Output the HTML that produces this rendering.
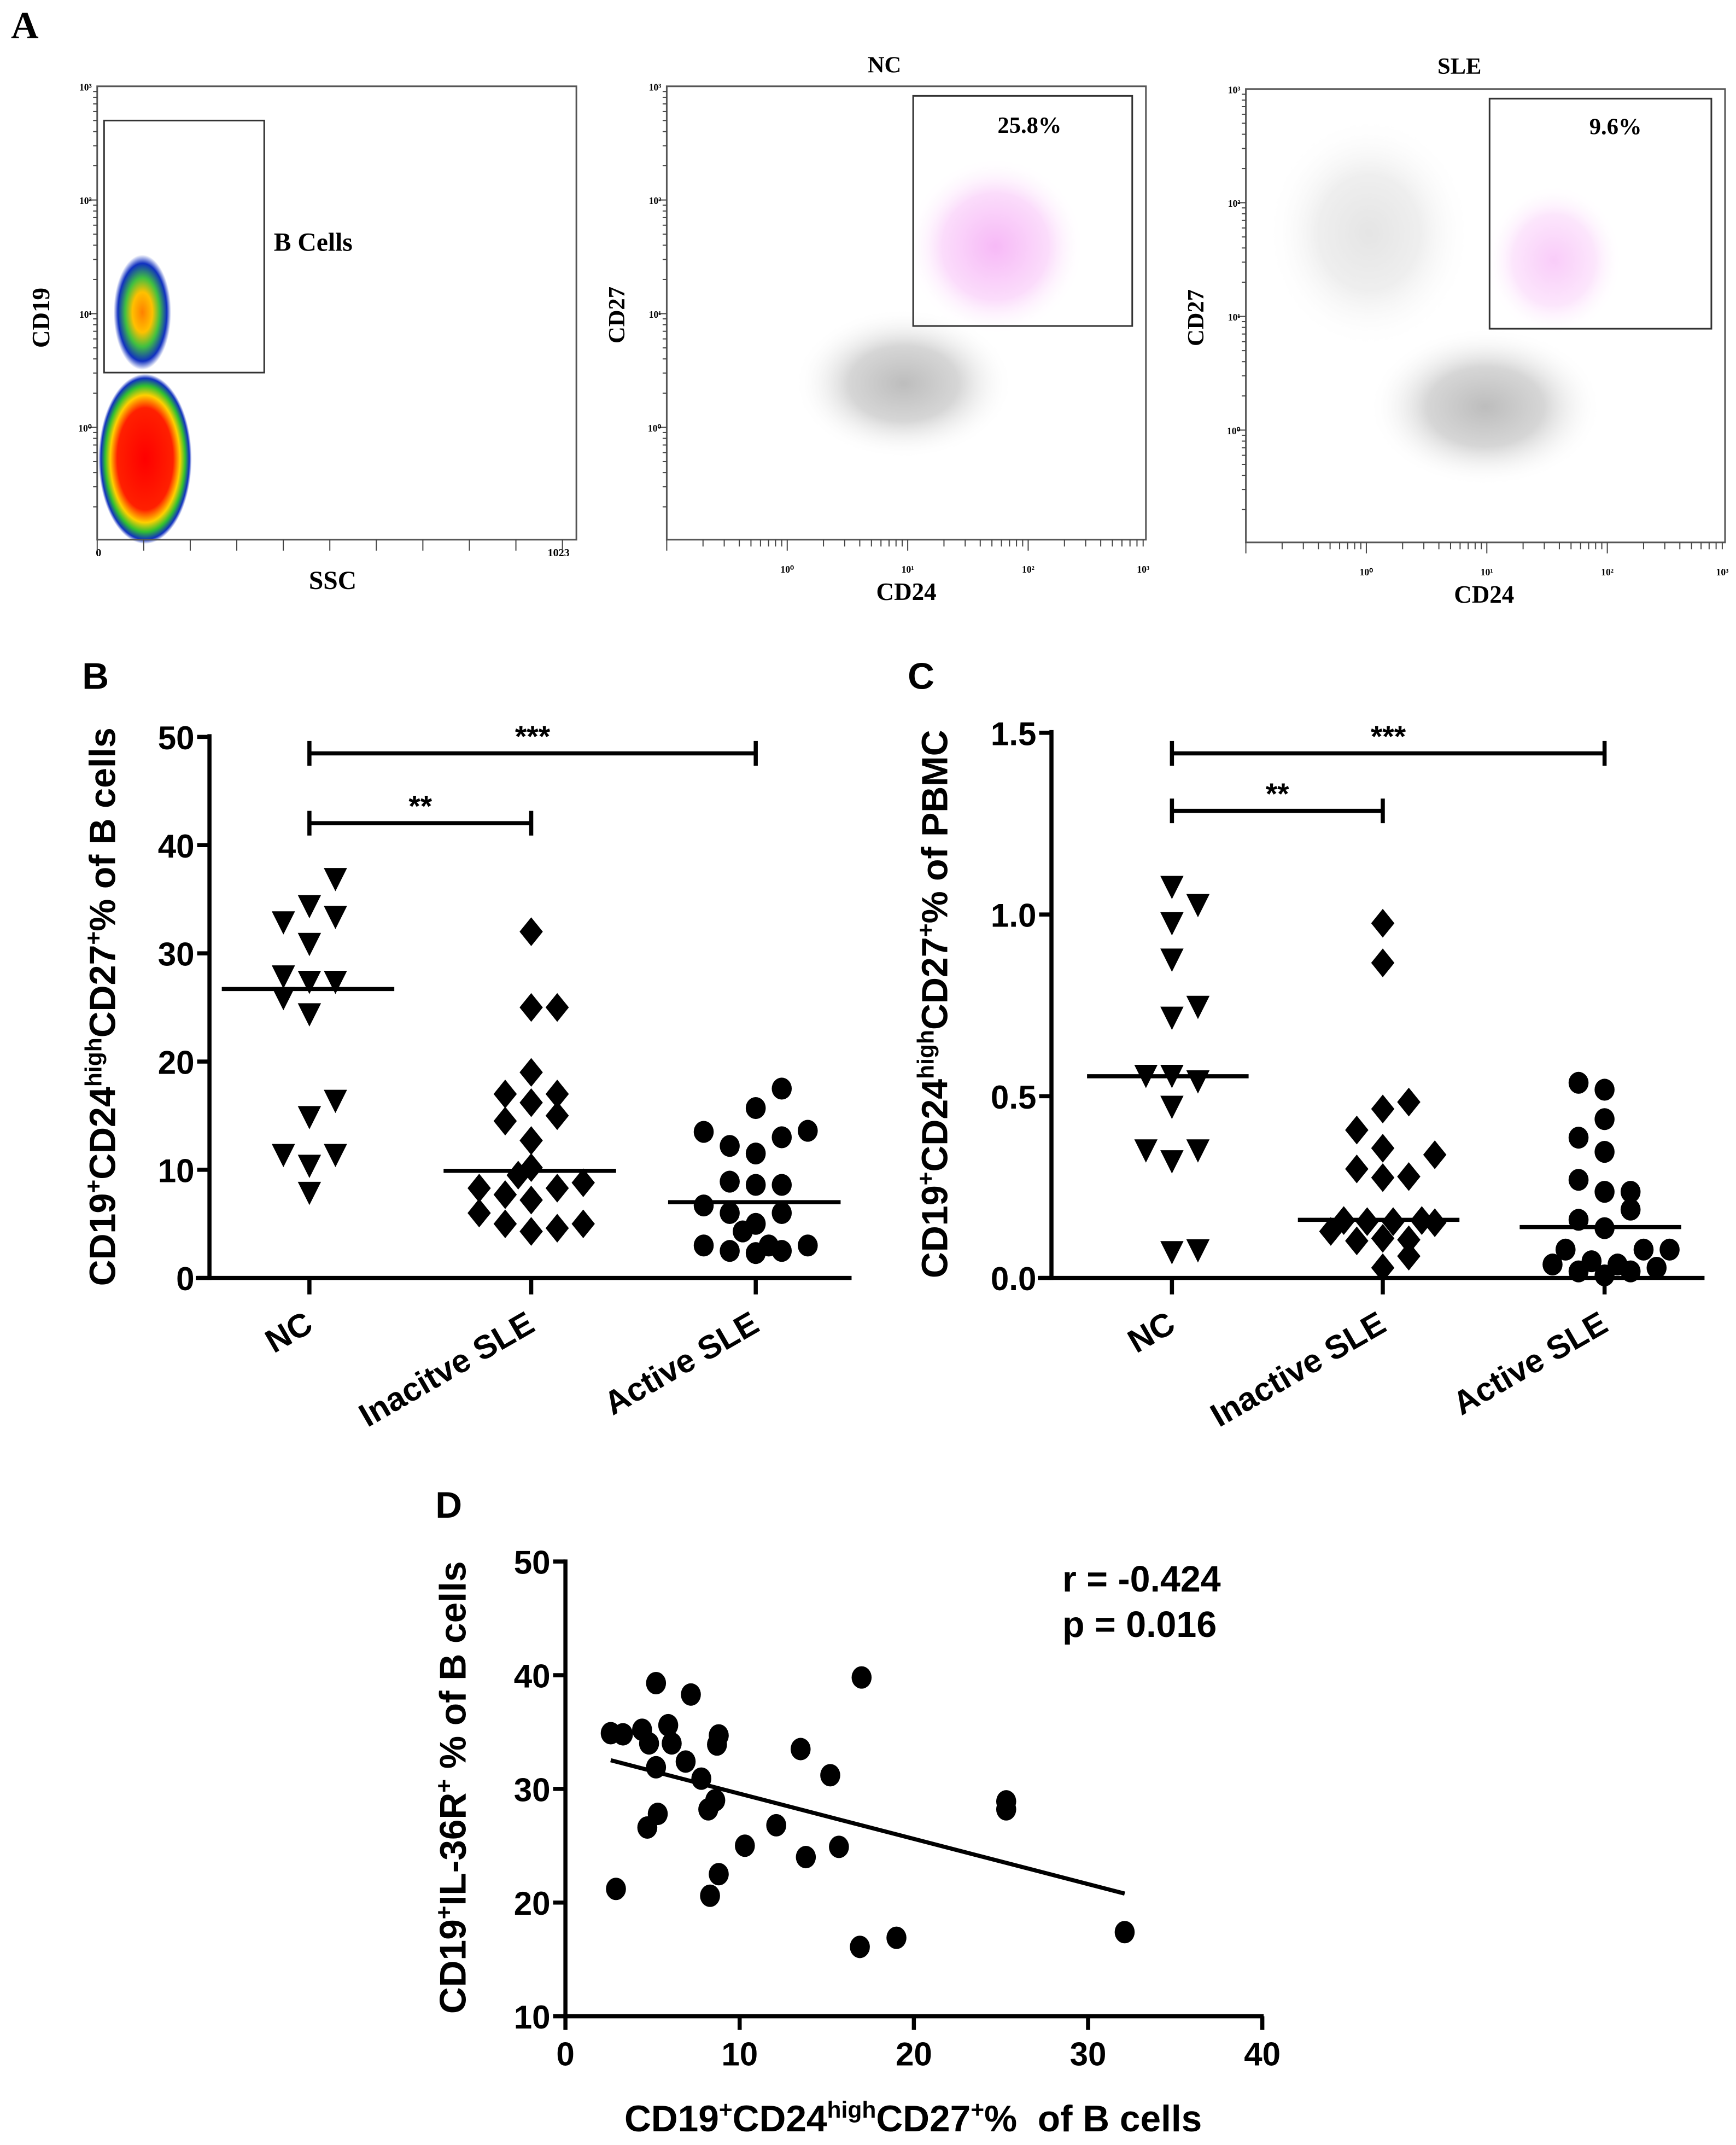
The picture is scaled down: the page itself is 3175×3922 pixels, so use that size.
<!DOCTYPE html>
<html><head><meta charset="utf-8"><style>
html,body{margin:0;padding:0;background:#fff}
svg{display:block}
text{font-family:"Liberation Sans",Arial,sans-serif;font-weight:bold;fill:#000}
.serif{font-family:"Liberation Serif","Times New Roman",serif}
</style></head><body>
<svg id="fig" xmlns="http://www.w3.org/2000/svg" width="3175" height="3922" viewBox="0 0 1268 1566" preserveAspectRatio="none">
<defs>
<radialGradient id="heat" cx="50%" cy="50%" r="50%">
<stop offset="0" stop-color="#ff0000"/><stop offset="0.6" stop-color="#ff2000"/><stop offset="0.75" stop-color="#ffd000"/><stop offset="0.86" stop-color="#30c030"/><stop offset="0.95" stop-color="#1030c0"/><stop offset="1" stop-color="#1030c0" stop-opacity="0"/></radialGradient>
<radialGradient id="heat2" cx="50%" cy="50%" r="50%">
<stop offset="0" stop-color="#ff8000"/><stop offset="0.35" stop-color="#ffc000"/><stop offset="0.6" stop-color="#40c040"/><stop offset="0.85" stop-color="#1030c0"/><stop offset="1" stop-color="#1030c0" stop-opacity="0"/></radialGradient>
<radialGradient id="gray" cx="50%" cy="50%" r="50%">
<stop offset="0" stop-color="#bdbdbd"/><stop offset="0.5" stop-color="#d6d6d6"/><stop offset="1" stop-color="#fff" stop-opacity="0"/></radialGradient>
<radialGradient id="pink" cx="50%" cy="50%" r="50%">
<stop offset="0" stop-color="#f080f0"/><stop offset="0.6" stop-color="#f8c0f8"/><stop offset="1" stop-color="#fff" stop-opacity="0"/></radialGradient>
</defs>

<text class="serif" x="8" y="28" font-size="28">A</text>

<g>
<ellipse cx="106" cy="335" rx="34" ry="62" fill="url(#heat)"/>
<ellipse cx="104" cy="228" rx="21" ry="42" fill="url(#heat2)"/>
<rect x="71" y="63" width="350" height="331" fill="none" stroke="#555" stroke-width="1.2"/>
<rect x="76" y="88" width="117" height="184" fill="none" stroke="#333" stroke-width="1.2"/>
<text class="serif" x="200" y="183" font-size="19">B Cells</text>
<text class="serif" x="0" y="0" font-size="18" transform="translate(36,232) rotate(-90)" text-anchor="middle">CD19</text>
<text class="serif" x="243" y="430" font-size="19" text-anchor="middle">SSC</text>
<text class="serif" x="72" y="406" font-size="8" text-anchor="middle">0</text>
<text class="serif" x="408" y="406" font-size="8" text-anchor="middle">1023</text>
</g>

<g>
<ellipse cx="660" cy="280" rx="80" ry="55" fill="url(#gray)"/>
<ellipse cx="727" cy="180" rx="65" ry="65" fill="url(#pink)" opacity="0.55"/>
<rect x="487" y="63" width="350" height="331" fill="none" stroke="#555" stroke-width="1.2"/>
<rect x="667" y="70" width="160" height="168" fill="none" stroke="#333" stroke-width="1.2"/>
<text class="serif" x="752" y="97" font-size="17" text-anchor="middle">25.8%</text>
<text class="serif" x="646" y="53" font-size="17" text-anchor="middle">NC</text>
<text class="serif" x="0" y="0" font-size="17" transform="translate(456,230) rotate(-90)" text-anchor="middle">CD27</text>
<text class="serif" x="662" y="438" font-size="18" text-anchor="middle">CD24</text>
</g>

<g>
<ellipse cx="1085" cy="297" rx="85" ry="58" fill="url(#gray)"/>
<ellipse cx="1000" cy="170" rx="75" ry="85" fill="url(#gray)" opacity="0.4"/>
<ellipse cx="1135" cy="190" rx="50" ry="55" fill="url(#pink)" opacity="0.4"/>
<rect x="910" y="65" width="350" height="331" fill="none" stroke="#555" stroke-width="1.2"/>
<rect x="1088" y="72" width="162" height="168" fill="none" stroke="#333" stroke-width="1.2"/>
<text class="serif" x="1180" y="98" font-size="17" text-anchor="middle">9.6%</text>
<text class="serif" x="1066" y="54" font-size="17" text-anchor="middle">SLE</text>
<text class="serif" x="0" y="0" font-size="17" transform="translate(879,232) rotate(-90)" text-anchor="middle">CD27</text>
<text class="serif" x="1084" y="440" font-size="18" text-anchor="middle">CD24</text>
</g>
<g id="flowticks"></g>

<text x="60" y="503" font-size="27">B</text>
<g id="panelB"></g>
<text x="663" y="503" font-size="27">C</text>
<g id="panelC"></g>
<text x="318" y="1108" font-size="27">D</text>
<g id="panelD"></g>
</svg>
<script>
// ---------- Panel B data ----------
const bCategories = ["NC", "Inacitve SLE", "Active SLE"];
const bTicks = [0, 10, 20, 30, 40, 50];
const bNC = [37,34.5,33,33.5,31,28,27.5,27.5,26,24.5,16.5,15,11.5,10.5,11.5,8];
const bNCJit = [1,0,-1,1,0,-1,0,1,-1,0,1,0,-1,0,1,0];
const bInactive = [32,25,25,19,17,16.2,17,15,14.5,12.7,10.2,9.5,8.3,7.7,8.3,8.8,7.2,6,5,4.3,4.6,5];
const bInactiveJit = [0,0,1,0,-1,0,1,1,-1,0,0,-0.5,-2,-1,1,2,0,-2,-1,0,1,2];
const bActive = [17.5,15.7,13.5,12.2,11.5,13,13.6,8.9,8.6,8.6,6.7,6,5,4.3,6,3,2.5,2.3,3,2.5,3];
const bActiveJit = [1,0,-2,-1,0,1,2,-1,0,1,-2,-1,0,-0.5,1,-2,-1,0,0.5,1,2];
const bMedians = [26.7, 9.9, 7.0];
// ---------- Panel C data ----------
const cCategories = ["NC", "Inactive SLE", "Active SLE"];
const cTicks = [0.0, 0.5, 1.0, 1.5];
const cNC = [1.08,1.03,0.98,0.88,0.75,0.72,0.56,0.56,0.545,0.475,0.355,0.355,0.325,0.075,0.08];
const cNCJit = [0,1,0,0,1,0,-1,0,1,0,-1,1,0,0,1];
const cInactive = [0.976,0.867,0.484,0.465,0.407,0.357,0.339,0.3,0.276,0.279,0.158,0.155,0.155,0.158,0.152,0.128,0.102,0.109,0.105,0.06,0.028];
const cInactiveJit = [0,0,1,0,-1,0,2,-1,0,1,-1.5,-0.6,0.4,1.5,2,-2,-1,0,1,1,0];
const cActive = [0.537,0.518,0.437,0.386,0.347,0.27,0.237,0.237,0.188,0.16,0.137,0.078,0.078,0.078,0.037,0.046,0.037,0.028,0.018,0.007,0.018];
const cActiveJit = [-1,0,0,-1,0,-1,0,1,1,-1,0,-1.5,1.5,2.5,-2,-0.5,0.5,2,-1,0,1];
const cMedians = [0.555, 0.16, 0.14];
// ---------- Panel D data ----------
const dX = [2.6,3.3,4.4,4.8,5.2,5.9,6.1,5.2,6.9,7.2,7.8,8.8,8.7,8.6,8.2,5.3,4.7,2.9,8.8,8.3,10.3,12.1,13.8,13.5,15.2,15.7,17.0,16.9,19.0,25.3,25.3,32.1];
const dY = [34.9,34.8,35.2,34.0,39.3,35.6,34.0,31.9,32.4,38.3,30.9,34.7,33.9,29.0,28.2,27.8,26.6,21.2,22.5,20.6,25.0,26.8,24.0,33.5,31.2,24.9,39.8,16.1,16.9,28.9,28.2,17.4];
const dXTicks = [0, 10, 20, 30, 40];
const dYTicks = [10, 20, 30, 40, 50];

const NS = "http://www.w3.org/2000/svg";
function mk(parent, tag, attrs, txt) {
  const e = document.createElementNS(NS, tag);
  for (const k in attrs) e.setAttribute(k, attrs[k]);
  if (txt !== undefined) e.textContent = txt;
  parent.appendChild(e);
  return e;
}

(function(){
  const g = document.getElementById('flowticks');
  const plots = [{x0:71,y0:63,w:350,h:331,logX:false},{x0:487,y0:63,w:350,h:331,logX:true},{x0:910,y0:65,w:350,h:331,logX:true}];
  const sup = ['⁰','¹','²','³'];
  plots.forEach(p=>{
    const dec = 83;
    const yOf = v => p.y0 + (3 - v)*dec; // v in decades
    for (let d=-1; d<3; d++) {
      for (let m=1; m<10; m++) {
        const y = yOf(d + Math.log10(m));
        if (y > p.y0+p.h) continue;
        const len = m===1 ? 6 : 3;
        const t = mk(g,'line',{x1:p.x0-len,x2:p.x0,y1:y,y2:y,stroke:'#444','stroke-width':0.8});
        
        
      }
    }
    for (let i=0;i<4;i++){
      const t = mk(g,'text',{x:p.x0-4,y:yOf(i)+3,'font-size':7,'text-anchor':'end','class':'serif'},'10'+sup[i]);
      
      
    }
    if (p.logX) {
      const xd = 88;
      const x0 = p.x0 + p.w - 4*xd + 2;
      for (let d=-1; d<4; d++) for (let m=1; m<10; m++) {
        const x = x0 + (d + Math.log10(m))*xd;
        if (x < p.x0 || x > p.x0+p.w) continue;
        const len = m===1 ? 8 : 5;
        const t = mk(g,'line',{x1:x,x2:x,y1:p.y0+p.h,y2:p.y0+p.h+len,stroke:'#444','stroke-width':0.8});
        
        
      }
      for (let i=1;i<=4;i++){
        const t = mk(g,'text',{x:x0+i*xd-(i===4?4:0),y:p.y0+p.h+24,'font-size':7,'text-anchor':'middle','class':'serif'},'10'+sup[i-1]);
        
        
      }
    } else {
      for (let i=0;i<=10;i++){
        const x = p.x0 + i*p.w/10.3;
        const t = mk(g,'line',{x1:x,x2:x,y1:p.y0+p.h,y2:p.y0+p.h+8,stroke:'#444','stroke-width':0.8});
        
        
      }
    }
  });
})();

function marker(g, shape, x, y) {
  let e;
  if (shape === 'tri') e = mk(g,'polygon',{points:`${x-8.5},${y-7} ${x+8.5},${y-7} ${x},${y+10}`,fill:'#000'});
  else if (shape === 'dia') e = mk(g,'polygon',{points:`${x},${y-10.5} ${x+8.5},${y} ${x},${y+10.5} ${x-8.5},${y}`,fill:'#000'});
  else e = mk(g,'ellipse',{cx:x,cy:y,rx:7.3,ry:8,fill:'#000'});
  return e;
}

function dotPlot(cfg) {
  const g = document.getElementById(cfg.id);
  const ys = v => cfg.y0 - (v - cfg.vmin)/(cfg.vmax - cfg.vmin)*(cfg.y0 - cfg.y1);
  let e = mk(g,'line',{x1:cfg.ax,x2:cfg.ax,y1:cfg.y1-2,y2:cfg.y0+1.5,stroke:'#000','stroke-width':3});
   
  e = mk(g,'line',{x1:cfg.ax-10,x2:cfg.xEnd,y1:cfg.y0,y2:cfg.y0,stroke:'#000','stroke-width':3});
   
  cfg.ticks.forEach(t=>{
    const y = ys(t);
    let l = mk(g,'line',{x1:cfg.ax-9,x2:cfg.ax,y1:y,y2:y,stroke:'#000','stroke-width':3});
     
    let tx = mk(g,'text',{x:cfg.ax-11,y:y+9,'font-size':24,'text-anchor':'end'}, cfg.fmt(t));
     
  });
  cfg.cats.forEach((c,i)=>{
    const x = cfg.cx[i];
    let l = mk(g,'line',{x1:x,x2:x,y1:cfg.y0,y2:cfg.y0+12,stroke:'#000','stroke-width':3});
     
    let tx = mk(g,'text',{x:0,y:0,'font-size':24,'text-anchor':'end',transform:`translate(${x+4},${cfg.y0+38}) rotate(-30)`}, c);
     
  });
  cfg.series.forEach((s,i)=>{
    s.vals.forEach((v,j)=>{
      const m = marker(g, s.shape, cfg.cx[i] + s.jit[j]*19, ys(v));
      
      
    });
    const my = ys(cfg.medians[i]);
    const ml = mk(g,'line',{x1:cfg.cx[i]-cfg.mw[0],x2:cfg.cx[i]+cfg.mw[1],y1:my,y2:my,stroke:'#000','stroke-width':3});
    
    
  });
  cfg.brackets.forEach(b=>{
    const xa = cfg.cx[b.a], xb = cfg.cx[b.b];
    const bg = mk(g,'g',{});
    
    
    mk(bg,'line',{x1:xa,x2:xb,y1:b.y,y2:b.y,stroke:'#000','stroke-width':3});
    mk(bg,'line',{x1:xa,x2:xa,y1:b.y-9,y2:b.y+9,stroke:'#000','stroke-width':3});
    mk(bg,'line',{x1:xb,x2:xb,y1:b.y-9,y2:b.y+9,stroke:'#000','stroke-width':3});
    const st = mk(g,'text',{x:(xa+xb)/2,y:b.y-5,'font-size':22,'text-anchor':'middle'}, b.label);
    
    
  });
  const tt = mk(g,'text',{x:0,y:0,'font-size':26.5,'text-anchor':'middle',transform:`translate(${cfg.titleX},${cfg.titleY}) rotate(-90)`});
  
  
  tt.innerHTML = 'CD19<tspan font-size="17" dy="-10">+</tspan><tspan dy="10">CD24</tspan><tspan font-size="17" dy="-10">high</tspan><tspan dy="10">CD27</tspan><tspan font-size="17" dy="-10">+</tspan><tspan dy="10">% of ' + cfg.titleEnd + '</tspan>';
}

dotPlot({id:'panelB', ax:153, xEnd:622, y0:933, y1:538, vmin:0, vmax:50, ticks:bTicks, fmt:t=>String(t),
  cats:bCategories, cx:[226,388,552], mw:[64,62],
  series:[{name:'nc',shape:'tri',vals:bNC,jit:bNCJit},{name:'inactive-sle',shape:'dia',vals:bInactive,jit:bInactiveJit},{name:'active-sle',shape:'cir',vals:bActive,jit:bActiveJit}],
  medians:bMedians,
  brackets:[{a:0,b:2,y:550,label:'***'},{a:0,b:1,y:601,label:'**'}],
  titleX:84, titleY:735, titleEnd:'B cells'});

dotPlot({id:'panelC', ax:768, xEnd:1245, y0:933, y1:535, vmin:0, vmax:1.5, ticks:cTicks, fmt:t=>t.toFixed(1),
  cats:cCategories, cx:[856,1010,1172], mw:[62,56],
  series:[{name:'nc',shape:'tri',vals:cNC,jit:cNCJit},{name:'inactive-sle',shape:'dia',vals:cInactive,jit:cInactiveJit},{name:'active-sle',shape:'cir',vals:cActive,jit:cActiveJit}],
  medians:cMedians,
  brackets:[{a:0,b:2,y:550,label:'***'},{a:0,b:1,y:592,label:'**'}],
  titleX:692, titleY:733, titleEnd:'PBMC'});

(function(){
  const g = document.getElementById('panelD');
  const X0=413, X1=922, Y0=1472, Y1=1140;
  const xs = v => X0 + v/40*(X1-X0);
  const ys = v => Y0 - (v-10)/40*(Y0-Y1);
  let e = mk(g,'line',{x1:X0,x2:X0,y1:Y1-1.5,y2:Y0+1.5,stroke:'#000','stroke-width':3});
   
  e = mk(g,'line',{x1:X0-1.5,x2:X1+1,y1:Y0,y2:Y0,stroke:'#000','stroke-width':3});
   
  dYTicks.forEach(t=>{
    const y = ys(t);
    let l = mk(g,'line',{x1:X0-9,x2:X0,y1:y,y2:y,stroke:'#000','stroke-width':3});
     
    let tx = mk(g,'text',{x:X0-11,y:y+9,'font-size':24,'text-anchor':'end'},String(t));
     
  });
  dXTicks.forEach(t=>{
    const x = xs(t);
    let l = mk(g,'line',{x1:x,x2:x,y1:Y0,y2:Y0+10,stroke:'#000','stroke-width':3});
     
    let tx = mk(g,'text',{x:x,y:Y0+36,'font-size':24,'text-anchor':'middle'},String(t));
     
  });
  dX.forEach((v,i)=>{
    const c = mk(g,'ellipse',{cx:xs(v),cy:ys(dY[i]),rx:7.3,ry:8.2,fill:'#000'});
    
    
  });
  const n=dX.length; let sx=0,sy=0,sxx=0,sxy=0;
  for(let i=0;i<n;i++){sx+=dX[i];sy+=dY[i];sxx+=dX[i]*dX[i];sxy+=dX[i]*dY[i];}
  const slope=(n*sxy-sx*sy)/(n*sxx-sx*sx), icpt=(sy-slope*sx)/n;
  const xmin=Math.min(...dX), xmax=Math.max(...dX);
  const rl = mk(g,'line',{x1:xs(xmin),y1:ys(icpt+slope*xmin),x2:xs(xmax),y2:ys(icpt+slope*xmax),stroke:'#000','stroke-width':3});
  
  
  let t = mk(g,'text',{x:776,y:1162,'font-size':26.5},'r = -0.424');
   
  t = mk(g,'text',{x:776,y:1195,'font-size':26.5},'p = 0.016');
   
  const yt = mk(g,'text',{x:0,y:0,'font-size':27,'text-anchor':'middle',transform:'translate(340,1305) rotate(-90)'});
  
  
  yt.innerHTML='CD19<tspan font-size="17" dy="-10">+</tspan><tspan dy="10">IL-36R</tspan><tspan font-size="17" dy="-10">+</tspan><tspan dy="10">\u00a0% of B cells</tspan>';
  const xt = mk(g,'text',{x:667,y:1556,'font-size':27,'text-anchor':'middle'});
  
  
  xt.innerHTML='CD19<tspan font-size="17" dy="-10">+</tspan><tspan dy="10">CD24</tspan><tspan font-size="17" dy="-10">high</tspan><tspan dy="10">CD27</tspan><tspan font-size="17" dy="-10">+</tspan><tspan dy="10">%\u00a0\u00a0of B cells</tspan>';
})();
</script>
</body></html>
